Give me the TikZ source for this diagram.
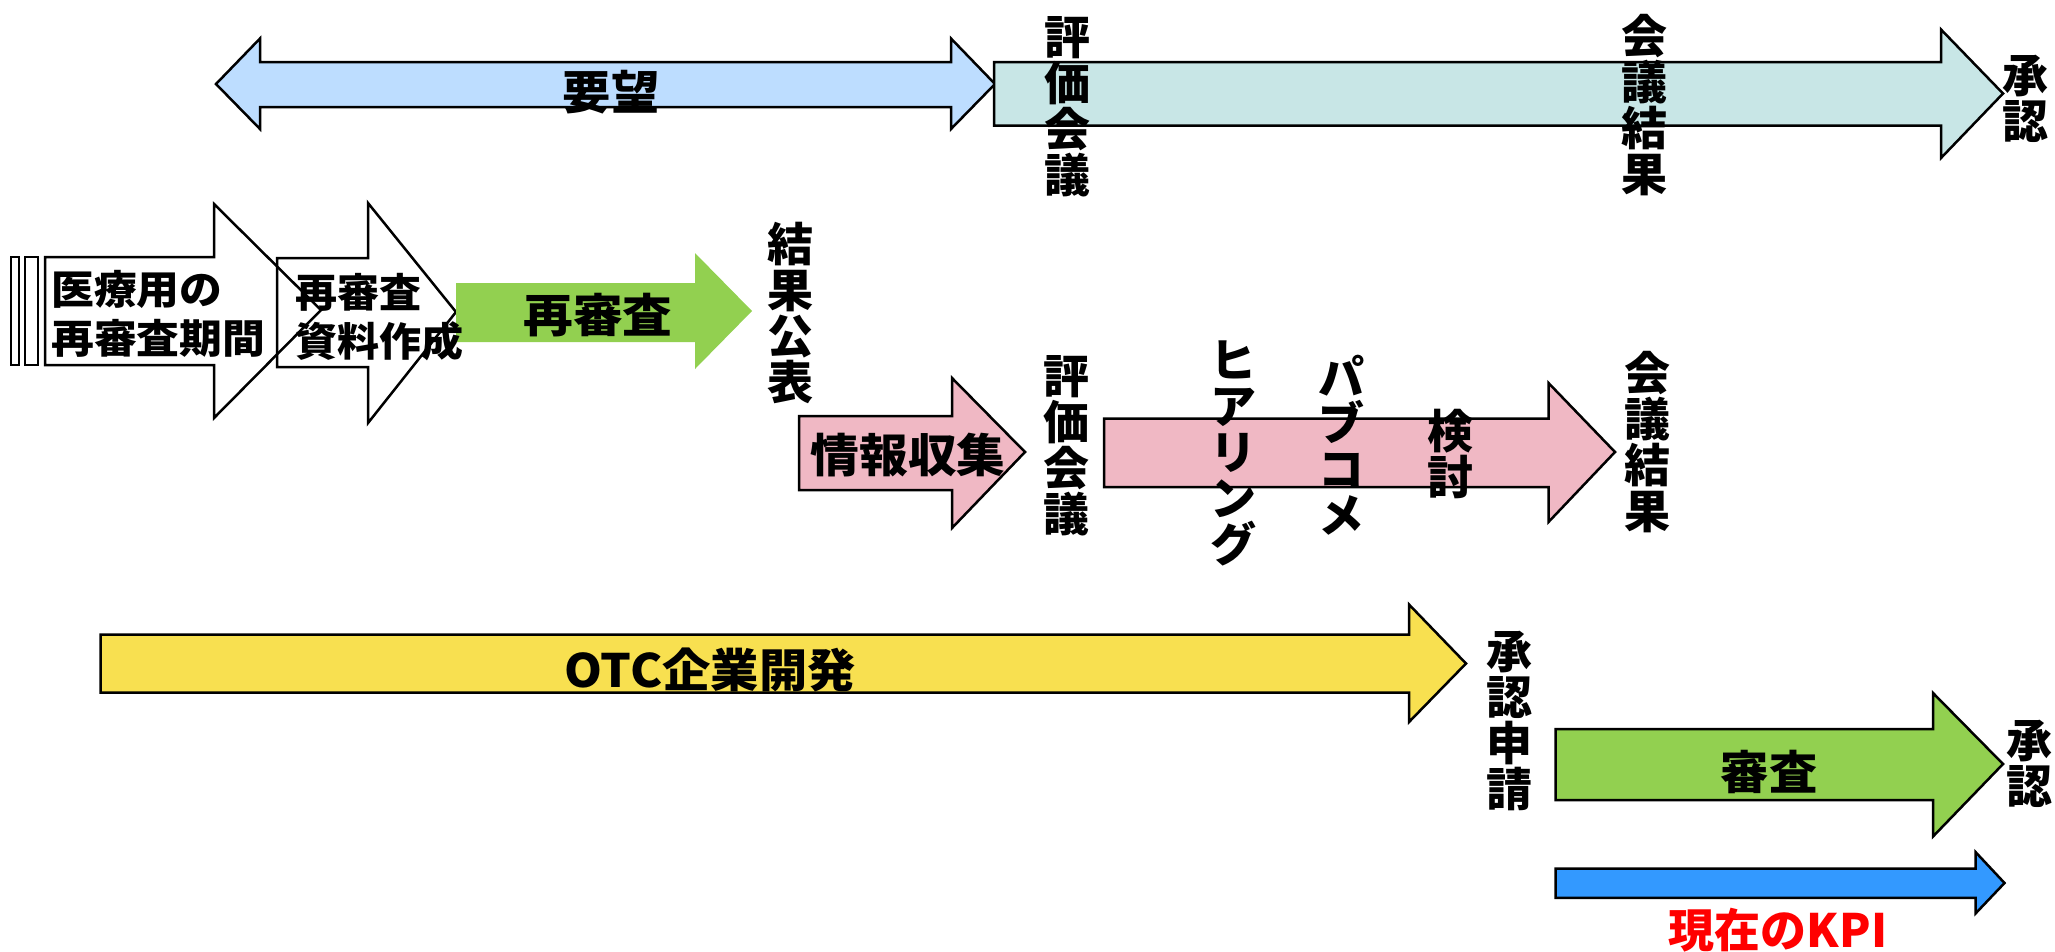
\documentclass[tikz,border=0pt]{standalone}
\usepackage{fontspec}
\usepackage{graphicx}
\setmainfont{Noto Sans CJK JP}
\definecolor{cYobo}{HTML}{BDDDFF}
\definecolor{cTeal}{HTML}{C8E6E6}
\definecolor{cGreen}{HTML}{92D050}
\definecolor{cPink}{HTML}{F0B8C4}
\definecolor{cYellow}{HTML}{F8E050}
\definecolor{cBlue}{HTML}{3399FF}
\definecolor{cRed}{HTML}{FF0000}
\tikzset{
  arrowbox/.style={draw=black, line width=2.5pt, line join=miter},
  lbl/.style={inner sep=0pt, font=\fontsize{46}{46}\selectfont\bfseries, text=black},
  vlbl/.style={lbl, align=center},
  smalllbl/.style={inner sep=0pt, font=\fontsize{40}{49}\selectfont\bfseries, align=left, text=black},
}
\begin{document}
\begin{tikzpicture}[x=1pt,y=-1pt]
\useasboundingbox (0,0) rectangle (2055,951);
% --- top row ---
\draw[arrowbox, fill=cYobo] (216,84) -- (260,38.5) -- (260,62) -- (951,62) -- (951,38.5) -- (995,84) -- (951,129) -- (951,107) -- (260,107) -- (260,129) -- cycle;
\draw[arrowbox, fill=cTeal] (994,62) -- (1941,62) -- (1941,29.5) -- (2003,93.5) -- (1941,158) -- (1941,125.7) -- (994,125.7) -- cycle;
\node[lbl] (yobo) at (611,92) {\scalebox{1.05}[1]{要望}};
\node[vlbl] (hyouka1) at (1067,107) {評\\価\\会\\議};
\node[vlbl] (kaigi1) at (1644,105) {会\\議\\結\\果};
\node[vlbl] (shounin1) at (2025,99) {承\\認};
% --- second row ---
\draw[line width=2pt] (11,257) rectangle (18.5,365);
\draw[line width=2pt] (24.5,257) rectangle (38,365);
\draw[arrowbox] (45,257) -- (214,257) -- (214,204) -- (321,310) -- (214,418) -- (214,365) -- (45,365) -- cycle;
\draw[arrowbox] (277,258) -- (368,258) -- (368,203) -- (456,312) -- (368,423) -- (368,367) -- (277,367) -- cycle;
\fill[cGreen] (456,283) -- (695,283) -- (695,253) -- (752,311) -- (695,369) -- (695,342) -- (456,342) -- cycle;
\node[smalllbl, anchor=west] (iryou) at (51,314) {\scalebox{1.07}[1]{医療用の}\\\scalebox{1.07}[1]{再審査期間}};
\node[smalllbl, anchor=west] (shiryou) at (295,317) {\scalebox{1.05}[1]{再審査}\\\scalebox{1.05}[1]{資料作成}};
\node[lbl] (saishinsa) at (598,315) {\scalebox{1.08}[1]{再審査}};
\node[vlbl] (kekka) at (790,313) {結\\果\\公\\表};
% --- pink row ---
\draw[arrowbox, fill=cPink] (799,416) -- (952,416) -- (952,378) -- (1025,452) -- (952,528) -- (952,490) -- (799,490) -- cycle;
\draw[arrowbox, fill=cPink] (1104,418.5) -- (1548.5,418.5) -- (1548.5,383) -- (1615,452) -- (1548.5,522) -- (1548.5,487) -- (1104,487) -- cycle;
\node[lbl] (jouhou) at (908,455) {\scalebox{1.06}[1]{情報収集}};
\node[vlbl] (hyouka2) at (1066,446) {評\\価\\会\\議};
\node[vlbl] (hiaring) at (1233,453) {ヒ\\ア\\リ\\ン\\グ};
\node[vlbl] (pabukome) at (1341,445) {パ\\ブ\\コ\\メ};
\node[vlbl] (kentou) at (1450,454) {検\\討};
\node[vlbl] (kaigi2) at (1647,442) {会\\議\\結\\果};
% --- OTC row ---
\draw[arrowbox, fill=cYellow] (100.5,634.5) -- (1409,634.5) -- (1409,604.5) -- (1466,663.5) -- (1409,722) -- (1409,692.5) -- (100.5,692.5) -- cycle;
\node[lbl] (otc) at (710,670) {\scalebox{1.05}[1]{OTC企業開発}};
\node[vlbl] (shinsei) at (1509,721) {承\\認\\申\\請};
% --- bottom right ---
\draw[arrowbox, fill=cGreen] (1555.5,729) -- (1933,729) -- (1933,693) -- (2003,764) -- (1933,836.5) -- (1933,800) -- (1555.5,800) -- cycle;
\node[lbl] (shinsa) at (1769,772) {\scalebox{1.05}[1]{審査}};
\node[vlbl] (shounin2) at (2029,764) {承\\認};
\draw[arrowbox, fill=cBlue] (1555.5,868.5) -- (1975.5,868.5) -- (1975.5,852) -- (2004.5,883) -- (1975.5,913.5) -- (1975.5,897.8) -- (1555.5,897.8) -- cycle;
\node[lbl, text=cRed] (kpi) at (1778,930) {現在のKPI};
\end{tikzpicture}
\end{document}
